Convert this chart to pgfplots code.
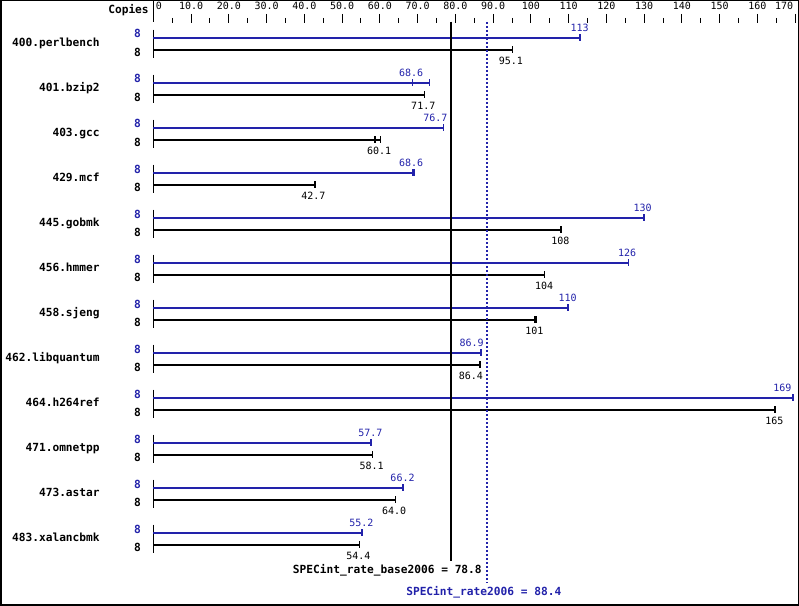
\documentclass[border=0pt]{standalone}
\usepackage{fontspec}
\setmainfont{DejaVu Sans Mono}
\usepackage{pgfplots}
\usepackage{pgfplotstable}
\pgfplotsset{compat=1.18}
\definecolor{specblue}{RGB}{34,34,170}
\newcommand\valfont{\fontsize{7.5pt}{9pt}\selectfont}
\newcommand\bfont{\fontsize{8.4pt}{10pt}\selectfont\bfseries}

% y = pixel row; blue rows at 37.7+45i, black rows at 49.6+45i
\pgfplotstableread{
x y
113 37.7
73.1 82.7
76.8 127.7
69.1 172.7
130 217.7
125.9 262.7
109.8 307.7
86.8 352.7
169.4 397.7
57.7 442.7
66.1 487.7
55.3 532.7
}\bluebars
\pgfplotstableread{
x y
95.1 49.6
71.8 94.6
60.2 139.6
42.8 184.6
108 229.6
103.6 274.6
101.4 319.6
86.5 364.6
164.6 409.6
58.0 454.6
64.1 499.6
54.6 544.6
}\blackbars
\pgfplotstableread{
x y
113 37.7
68.6 82.7
73.1 82.7
76.8 127.7
68.6 172.7
69.1 172.7
130 217.7
125.9 262.7
109.8 307.7
86.8 352.7
169.4 397.7
57.7 442.7
66.1 487.7
55.3 532.7
}\bluecaps
\pgfplotstableread{
x y
95.1 49.6
71.8 94.6
58.7 139.6
60.2 139.6
42.8 184.6
108 229.6
103.6 274.6
100.9 319.6
101.4 319.6
86.5 364.6
164.6 409.6
58.0 454.6
64.1 499.6
54.6 544.6
}\blackcaps
\pgfplotstableread{
x y label
112.9 31.7 113
68.3 76.7 68.6
74.7 121.7 76.7
68.3 166.7 68.6
129.6 211.7 130
125.5 256.7 126
109.7 301.7 110
84.3 346.7 86.9
166.6 391.7 169
57.5 436.7 57.7
66.0 481.7 66.2
55.1 526.7 55.2
}\bluelabels
\pgfplotstableread{
x y label
94.7 64.9 95.1
71.5 109.9 71.7
59.8 154.9 60.1
42.4 199.9 42.7
107.8 244.9 108
103.5 289.9 104
100.9 334.9 101
84.1 379.9 86.4
164.5 424.9 165
57.8 469.9 58.1
63.8 514.9 64.0
54.3 559.9 54.4
}\blacklabels
\pgfplotstableread{
y label
46.7 400.perlbench
91.7 401.bzip2
136.7 403.gcc
181.7 429.mcf
226.7 445.gobmk
271.7 456.hmmer
316.7 458.sjeng
361.7 462.libquantum
406.7 464.h264ref
451.7 471.omnetpp
496.7 473.astar
541.7 483.xalancbmk
}\names

\begin{document}
\begin{tikzpicture}
\begin{axis}[
  scale only axis, width=599.25pt, height=454.5pt,
  xmin=-40.598, xmax=171.0, ymin=0, ymax=606, y dir=reverse,
  hide axis, clip=false,
]
% top scale
\draw[line width=0.75pt] (axis cs:0,0) -- (axis cs:0,22);
\pgfplotsinvokeforeach{10,20,...,170}{\draw[line width=0.75pt] (axis cs:#1,14) -- (axis cs:#1,23);}
\pgfplotsinvokeforeach{5,15,...,165}{\draw[line width=0.75pt] (axis cs:#1,18) -- (axis cs:#1,23);}
\node[anchor=base west, inner sep=0pt, font=\valfont] at (axis cs:0.6,10) {0};
\pgfplotsinvokeforeach{10,20,...,90}{\node[anchor=base, inner sep=0pt, font=\valfont] at (axis cs:#1,10) {#1.0};}
\pgfplotsinvokeforeach{100,110,...,160}{\node[anchor=base, inner sep=0pt, font=\valfont] at (axis cs:#1,10) {#1};}
\node[anchor=base east, inner sep=0pt, font=\valfont] at (axis cs:{(793.5-153.3)/3.776},10) {170};
\node[anchor=base east, inner sep=0pt, font=\bfont] at (axis cs:{(149-153.3)/3.776},13.3) {Copies};
% row axis segments
\pgfplotsinvokeforeach{0,...,11}{\draw[line width=0.75pt] (axis cs:0,{29.7+45*#1}) -- (axis cs:0,{57.6+45*#1});}
% bars
\addplot[xcomb, specblue, line width=1.5pt] table[x=x,y=y] \bluebars;
\addplot[xcomb, black, line width=1.5pt] table[x=x,y=y] \blackbars;
\addplot[only marks, mark=|, mark size=2.6pt, specblue, mark options={line width=1.1pt}] table[x=x,y=y] \bluecaps;
\addplot[only marks, mark=|, mark size=2.6pt, black, mark options={line width=1.1pt}] table[x=x,y=y] \blackcaps;
% value labels
\addplot[only marks, mark=none, nodes near coords, point meta=explicit symbolic,
  every node near coord/.style={anchor=base, inner sep=0pt, font=\valfont, text=specblue}]
  table[x=x,y=y,meta=label] \bluelabels;
\addplot[only marks, mark=none, nodes near coords, point meta=explicit symbolic,
  every node near coord/.style={anchor=base, inner sep=0pt, font=\valfont, text=black}]
  table[x=x,y=y,meta=label] \blacklabels;
% names and copies
\addplot[only marks, mark=none, nodes near coords, point meta=explicit symbolic,
  every node near coord/.style={anchor=base east, inner sep=0pt, font=\bfont, text=black}]
  table[x expr=-14.12, y=y, meta=label] \names;
\addplot[only marks, mark=none, nodes near coords, point meta=explicit symbolic,
  every node near coord/.style={anchor=base, inner sep=0pt, font=\bfont, text=specblue}]
  table[x expr=-4.18, y expr=\thisrow{y}-8.7, meta=label] {
y label
46.7 8
91.7 8
136.7 8
181.7 8
226.7 8
271.7 8
316.7 8
361.7 8
406.7 8
451.7 8
496.7 8
541.7 8
};
\addplot[only marks, mark=none, nodes near coords, point meta=explicit symbolic,
  every node near coord/.style={anchor=base, inner sep=0pt, font=\bfont, text=black}]
  table[x expr=-4.18, y expr=\thisrow{y}+9.7, meta=label] {
y label
46.7 8
91.7 8
136.7 8
181.7 8
226.7 8
271.7 8
316.7 8
361.7 8
406.7 8
451.7 8
496.7 8
541.7 8
};
% overall rates
\addplot[black, line width=1.5pt] coordinates {(78.8,21.7) (78.8,560.7)};
\addplot[specblue, line width=1.5pt, dash pattern=on 1.5pt off 1.5pt] coordinates {(88.4,22) (88.4,582.7)};
\node[anchor=base east, inner sep=0pt, font=\bfont, text=black] at (axis cs:{(482-153.3)/3.776},573.3) {SPECint\_rate\_base2006 = 78.8};
\node[anchor=base west, inner sep=0pt, font=\bfont, text=specblue] at (axis cs:{(406-153.3)/3.776},595) {SPECint\_rate2006 = 88.4};
\end{axis}
\draw[line width=1.125pt] ([shift={(0.5625pt,-0.5625pt)}]current axis.north west) rectangle ([shift={(-0.5625pt,0.5625pt)}]current axis.south east);
\pgfresetboundingbox
\path[use as bounding box] (current axis.south west) rectangle (current axis.north east);
\end{tikzpicture}
\end{document}
